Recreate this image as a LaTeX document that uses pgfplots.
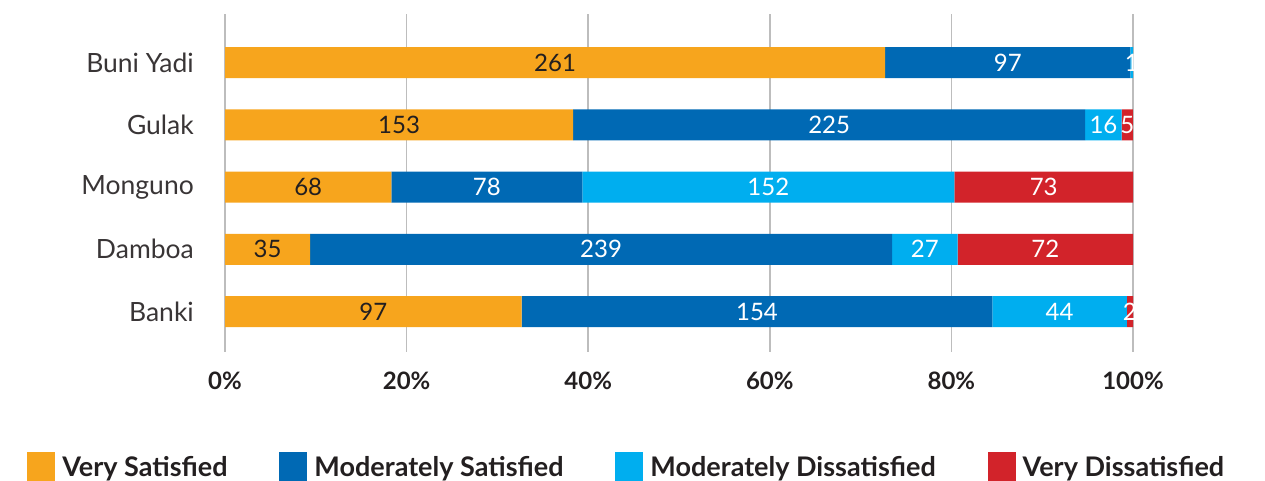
\documentclass[border=0pt]{standalone}
\usepackage{fontspec}
\setmainfont{Lato}
\usepackage{pgfplots}
\usepackage{pgfplotstable}
\pgfplotsset{compat=1.18}

\definecolor{vsat}{HTML}{F7A51D}
\definecolor{msat}{HTML}{0069B4}
\definecolor{mdis}{HTML}{00AEEF}
\definecolor{vdis}{HTML}{D2232A}
\definecolor{gridc}{HTML}{BDBDBD}
\definecolor{txt}{HTML}{231F20}

% respondents per site: very satisfied, moderately satisfied,
% moderately dissatisfied, very dissatisfied (bottom row first)
\pgfplotstableread{
vs  ms  md  vd
97  154 44  2
35  239 27  72
68  78  152 73
153 225 16  5
261 97  1   0
}\sat
\pgfplotstablecreatecol[create col/expr={\thisrow{vs}+\thisrow{ms}+\thisrow{md}+\thisrow{vd}}]{tot}\sat

\pgfplotsset{
  /pgf/number format/assume math mode=true,
  frame/.style={
    at={(225pt,129pt)}, anchor=south west,
    scale only axis, width=908pt, height=338pt,
    xmin=0, xmax=100, ymin=-0.65, ymax=4.78,
  },
  sq/.style={fill=#1, draw=none,
    legend image code/.code={\fill[#1] (0pt,-15pt) rectangle (28pt,15pt);}},
  lbl/.style={draw=none, mark=none, point meta=explicit, nodes near coords,
    nodes near coords align={center},
    every node near coord/.append style={font=\fontsize{24}{27}\selectfont, text=#1, inner sep=0pt}},
}

\begin{document}
\begin{tikzpicture}
\useasboundingbox (0pt,0pt) rectangle (1265pt,481pt);

\begin{axis}[frame,
  xbar stacked, bar width=31pt,
  axis line style={draw=none},
  tick style={draw=none},
  xmajorgrids, grid style={gridc, line width=1.5pt},
  xtick={0,20,...,100},
  xticklabel={\pgfmathprintnumber{\tick}\%},
  xticklabel style={anchor=center, yshift=-29pt, inner sep=0pt,
    font=\fontsize{24}{28}\selectfont\bfseries, text=txt},
  ytick={0,...,4},
  yticklabels={Banki,Damboa,Monguno,Gulak,Buni Yadi},
  yticklabel style={anchor=east, xshift=-31pt, inner sep=0pt,
    font=\fontsize{26.5}{29}\selectfont, text=txt!90},
  legend columns=4,
  legend style={draw=none, fill=none, inner sep=0pt,
    at={(-0.218,-0.340)}, anchor=west,
    font=\fontsize{27}{30}\selectfont\bfseries, text=txt,
    nodes={inner sep=0pt, anchor=west},
    /tikz/every even column/.append style={column sep=52pt},
    /tikz/every odd column/.append style={column sep=7pt}},
]
\addplot[sq=vsat] table[x expr=\thisrow{vs}/\thisrow{tot}*100, y expr=\coordindex] {\sat};
\addplot[sq=msat] table[x expr=\thisrow{ms}/\thisrow{tot}*100, y expr=\coordindex] {\sat};
\addplot[sq=mdis] table[x expr=\thisrow{md}/\thisrow{tot}*100, y expr=\coordindex] {\sat};
\addplot[sq=vdis] table[x expr=\thisrow{vd}/\thisrow{tot}*100, y expr=\coordindex] {\sat};
\legend{Very Satisfied, Moderately Satisfied, Moderately Dissatisfied, Very Dissatisfied}
\end{axis}

% counts written at the middle of each segment
\begin{axis}[frame, hide axis]
\addplot[lbl=txt] table[x expr=\thisrow{vs}/2/\thisrow{tot}*100,
  y expr=\coordindex, meta=vs] {\sat};
\addplot[lbl=white] table[x expr=(\thisrow{vs}+\thisrow{ms}/2)/\thisrow{tot}*100,
  y expr=\coordindex, meta=ms] {\sat};
\addplot[lbl=white] table[x expr=(\thisrow{vs}+\thisrow{ms}+\thisrow{md}/2)/\thisrow{tot}*100,
  y expr=\coordindex, meta=md] {\sat};
\addplot[lbl=white, skip coords between index={4}{5}] table[x expr=(\thisrow{tot}-\thisrow{vd}/2)/\thisrow{tot}*100,
  y expr=\coordindex, meta=vd] {\sat};
\end{axis}
\end{tikzpicture}
\end{document}
